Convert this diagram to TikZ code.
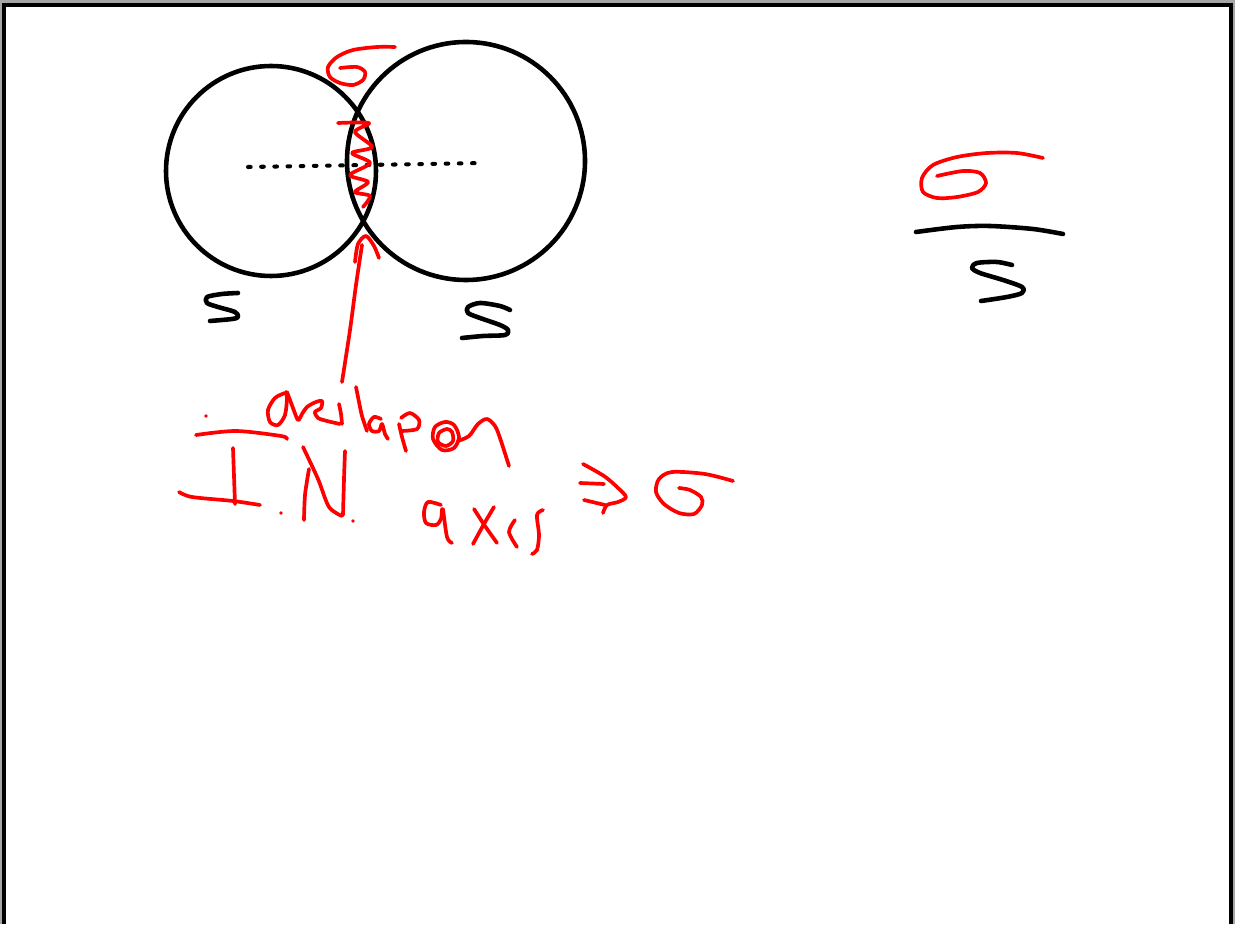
\documentclass[tikz,border=0pt]{standalone}
\usetikzlibrary{calc}

\tikzset{
  ink/.style={black, line width=2.6pt, line cap=round, line join=round},
  pen/.style={red, line width=2.1pt, line cap=round, line join=round},
}

\begin{document}
\begin{tikzpicture}[x=0.02cm, y=-0.02cm]
% page and frame
\fill[gray!70] (0,0) rectangle (1235,924);
\fill[white] (4,5) rectangle (1231,924);
\draw[black, line width=1.8pt] (4,924) -- (4,5) -- (1231,5) -- (1231,924);
\useasboundingbox (0,0) rectangle (1235,924);

% the two spheres
\draw[ink] (271,171) circle (105);
\draw[ink] (466,161) circle (119);
\draw[black, line width=2.3pt, line cap=round, dash pattern=on 1.5pt off 6pt] (248,167) -- (484,163);

% S under each sphere
\draw[ink] plot[smooth] coordinates {(238,293) (222,294) (207,297) (207,303) (218,307) (235,312) (238,317) (232,319) (210,321)};
\draw[ink] plot[smooth] coordinates {(510,310) (500,306) (480,303) (468,307) (468,313) (480,318) (500,325) (508,330) (505,335) (483,336) (462,338)};

% sigma above the overlap
\draw[pen] plot[smooth] coordinates {(395,47) (377,47) (353,50) (337,57) (328,67) (330,77) (340,83) (353,85) (363,80) (365,72) (357,67) (340,68)};

% overlap region
\draw[pen] plot[smooth, tension=0.5] coordinates {(338,123) (369,123) (355,132) (372,147) (352,153) (370,163) (350,175) (368,182) (355,192) (370,196) (363,207)};

% arrow to the overlap
\coordinate (tail) at (342,382);
\coordinate (tip) at (362,245);
\draw[pen] plot[smooth] coordinates {(tail) (350,330) (356,285) (tip)};
\draw[pen] plot[smooth] coordinates {(355,262) (358,244) (366,236) (374,246) (379,258)};

% overlapon
\draw[pen] plot[smooth] coordinates {(285,393) (275,398) (268,410) (270,422) (278,425) (285,415) (287,398) (286,392)};
\draw[pen] plot[smooth] coordinates {(287,392) (293,408) (298,420) (302,414) (307,407) (316,402) (322,401) (321,408) (315,412) (318,418) (327,421) (340,424)};
\draw[pen] plot[smooth] coordinates {(339,404) (341,414) (342,424)};
\draw[pen] plot[smooth] coordinates {(356,387) (359,402) (362,416) (367,431)};
\draw[pen] plot[smooth] coordinates {(381,419) (374,417) (369,424) (372,431) (379,431) (382,424) (385,434) (388,439)};
\draw[pen] plot[smooth] coordinates {(399,424) (402,437) (406,451)};
\draw[pen] plot[smooth] coordinates {(401,418) (410,413) (419,420) (417,429) (402,431)};
\draw[pen] plot[smooth cycle] coordinates {(445,422) (435,427) (433,439) (442,450) (454,448) (459,437) (454,425)};
\draw[pen] plot[smooth cycle] coordinates {(447,429) (439,433) (438,442) (446,446) (453,441) (452,432)};
\draw[pen] plot[smooth] coordinates {(458,441) (469,436) (478,424) (487,419) (495,426) (500,438) (509,466)};

% I.N.
\fill[red] (206,416) circle (1.8);
\draw[pen] plot[smooth] coordinates {(196,435) (236,431) (281,436) (287,439)};
\draw[pen] (233,448) -- (235,504);
\draw[pen] plot[smooth] coordinates {(179,492) (192,497) (233,501) (260,505)};
\fill[red] (281,513) circle (1.8);
\draw[pen] plot[smooth] coordinates {(309,469) (305,495) (304,520)};
\draw[pen] plot[smooth] coordinates {(303,447) (318,479) (329,507) (342,516)};
\draw[pen] plot[smooth] coordinates {(343,515) (344,479) (345,451)};
\fill[red] (353,521) circle (1.8);

% axis => sigma
\draw[pen] plot[smooth] coordinates {(441,505) (428,502) (424,512) (426,523) (436,525) (441,519) (442,509)};
\draw[pen] plot[smooth] coordinates {(443,509) (447,537) (452,543)};
\draw[pen] plot[smooth] coordinates {(474,509) (485,526) (497,543)};
\draw[pen] plot[smooth] coordinates {(494,507) (484,524) (473,544)};
\draw[pen] plot[smooth] coordinates {(515,520) (509,532) (517,547)};
\draw[pen] plot[smooth] coordinates {(543,510) (537,515) (539,535) (537,550) (532,554)};
\draw[pen] plot[smooth] coordinates {(583,464) (604,476) (617,487) (626,497) (618,502) (607,505) (603,513)};
\draw[pen] (580,483) -- (604,484);
\draw[pen] (584,500) -- (605,505);
\draw[pen] plot[smooth] coordinates {(733,481) (705,474) (672,472) (659,479) (656,492) (664,504) (679,513) (694,514) (702,505) (701,497) (690,490) (679,488)};

% sigma over S
\draw[pen] plot[smooth] coordinates {(1043,158) (1017,153) (987,153) (957,157) (933,165) (922,178) (923,192) (937,198) (957,197) (978,192) (986,183) (980,173) (963,171) (937,176)};
\draw[ink] plot[smooth] coordinates {(916,232) (957,227) (990,226) (1033,229) (1063,234)};
\draw[ink] plot[smooth] coordinates {(1012,265) (997,262) (977,263) (972,268) (980,273) (1003,280) (1022,287) (1022,293) (1007,297) (981,301)};
\end{tikzpicture}
\end{document}
